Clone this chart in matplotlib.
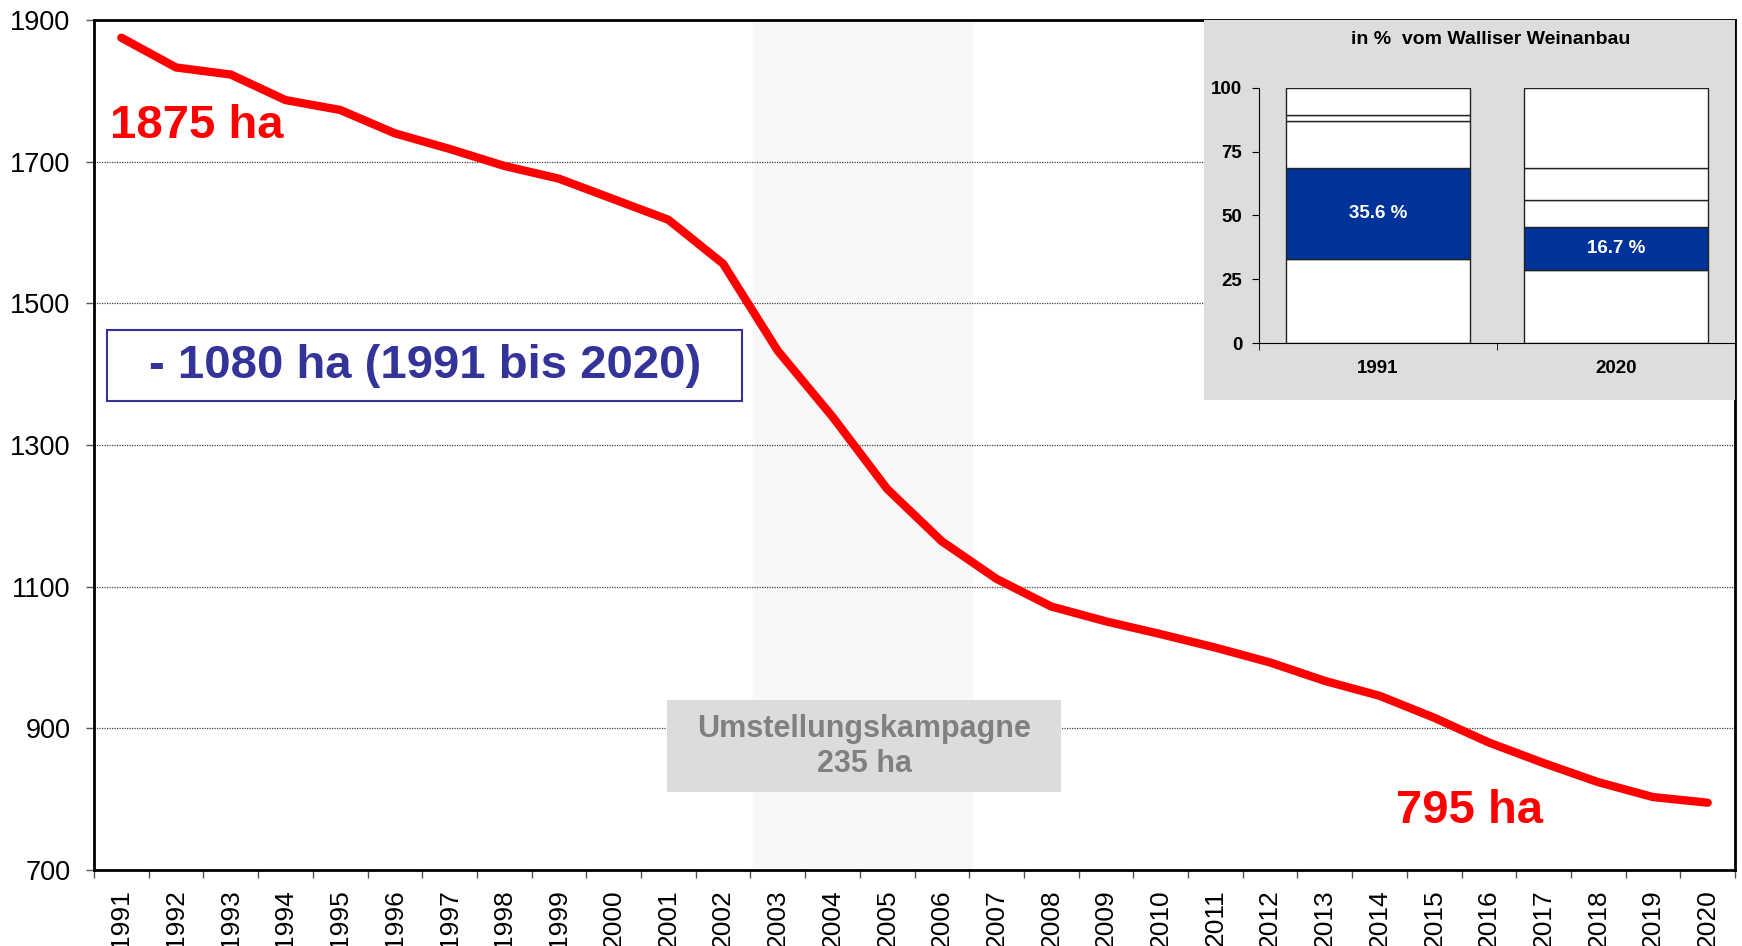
import numpy as np
import matplotlib.pyplot as plt
from matplotlib.patches import Rectangle
from matplotlib.ticker import FixedLocator

plt.rcParams['font.family'] = ['Liberation Sans', 'DejaVu Sans']

# Rebfläche in ha
years = np.arange(1991, 2021)
area = [1875, 1833, 1823, 1787, 1773, 1740, 1718, 1694, 1676, 1647,
        1618, 1556, 1433, 1340, 1238, 1164, 1111, 1072, 1051, 1033,
        1014, 993, 967, 946, 915, 880, 851, 824, 803, 795]

# Anteil in % vom Walliser Weinanbau
inset_years = ["1991", "2020"]
share_1991 = [33.0, 35.6, 18.5, 2.4, 10.5]
share_2020 = [28.7, 16.7, 10.6, 12.6, 31.4]
seg_colors = ["white", "#003399", "white", "white", "white"]

red = "#ff0000"
navy = "#333399"

fig = plt.figure(figsize=(17.42, 9.46), dpi=100)
ax = fig.add_axes([94 / 1742, 76 / 946, 1641 / 1742, 850 / 946])

ax.axvspan(2002.55, 2006.55, color="#f8f8f8", zorder=0)
ax.plot(years, area, color=red, lw=6, solid_capstyle="round", zorder=5)

ax.set_xlim(1990.5, 2020.5)
ax.set_ylim(700, 1900)
ax.set_yticks(np.arange(700, 1901, 200))
ax.set_xticks(years)
ax.set_xticklabels([str(y) for y in years], rotation=90, fontsize=19)
ax.xaxis.set_minor_locator(FixedLocator(np.arange(1990.5, 2021, 1)))
ax.tick_params(axis="x", which="major", length=0, pad=14)
ax.tick_params(axis="x", which="minor", length=6, width=1, color="#555555")
ax.tick_params(axis="y", labelsize=19.5, length=6, width=1, pad=11, color="#555555")
ax.set_axisbelow(True)
ax.yaxis.grid(True, linestyle=(0, (1, 1)), color="#444444", lw=0.9)
for s in ax.spines.values():
    s.set_linewidth(2)

# Textfelder
ax.text(1992.37, 1751, "1875 ha", color=red, fontsize=34, fontweight="bold",
        ha="center", va="center", zorder=6)
ax.text(2015.64, 783, "795 ha", color=red, fontsize=34, fontweight="bold",
        ha="center", va="center", zorder=6)

ax.add_patch(Rectangle((1990.74, 1362), 11.61, 100, facecolor="white",
                       edgecolor=navy, lw=1.5, zorder=3))
ax.text(1996.55, 1412, "- 1080 ha (1991 bis 2020)", color=navy, fontsize=34,
        fontweight="bold", ha="center", va="center", zorder=4)

ax.add_patch(Rectangle((2000.98, 810), 7.2, 130, facecolor="#dcdcdc",
                       edgecolor="none", zorder=3))
ax.text(2004.58, 874, "Umstellungskampagne\n235 ha", color="#808080",
        fontsize=22, fontweight="bold", ha="center", va="center",
        linespacing=1.2, zorder=4)

# Inset
bg = fig.add_axes([1204 / 1742, 546 / 946, 531 / 1742, 380 / 946])
bg.set_facecolor("#dddddd")
bg.set_xticks([])
bg.set_yticks([])
for s in bg.spines.values():
    s.set_visible(False)
bg.text(0.539, 0.95, "in %  vom Walliser Weinanbau", transform=bg.transAxes,
        ha="center", va="center", fontsize=14, fontweight="bold")

ins = fig.add_axes([1259 / 1742, 603 / 946, 476 / 1742, 255 / 946])
ins.set_facecolor("none")
for i, shares in enumerate([share_1991, share_2020]):
    bottoms = np.concatenate([[0], np.cumsum(shares)[:-1]])
    for val, bot, col in zip(shares, bottoms, seg_colors):
        ins.bar(i, val, bottom=bot, width=0.77, color=col,
                edgecolor="#222222", lw=1)
        if col != "white":
            ins.text(i, bot + val / 2, f"{val:.1f} %", color="white",
                     ha="center", va="center", fontsize=13.5, fontweight="bold")
ins.set_xlim(-0.5, 1.5)
ins.set_ylim(0, 100)
ins.set_yticks([0, 25, 50, 75, 100])
ins.set_xticks([0, 1])
ins.set_xticklabels(inset_years)
ins.xaxis.set_minor_locator(FixedLocator([-0.5, 0.5, 1.5]))
ins.tick_params(axis="x", which="major", length=0, pad=12)
ins.tick_params(axis="x", which="minor", length=5)
ins.tick_params(axis="y", length=5, pad=7)
for lab in ins.get_xticklabels() + ins.get_yticklabels():
    lab.set_fontsize(13.5)
    lab.set_fontweight("bold")
ins.spines["top"].set_visible(False)
ins.spines["right"].set_visible(False)

fig.savefig("out.png", dpi=100)
